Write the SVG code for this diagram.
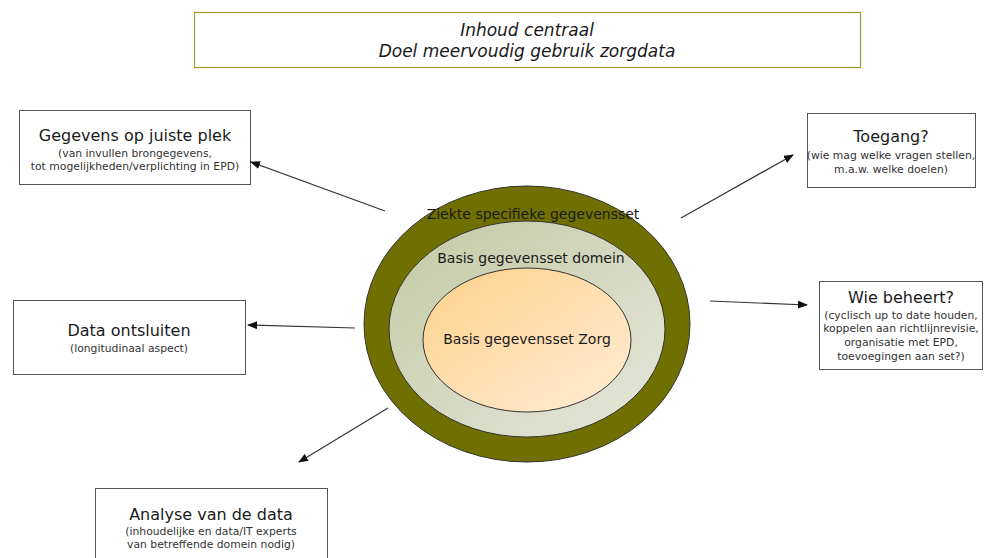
<svg xmlns="http://www.w3.org/2000/svg" width="992" height="558" viewBox="0 0 992 558">
<style>
text{font-family:"DejaVu Sans",Verdana,sans-serif;fill:#1a1a1a;text-anchor:middle}
.t{font-size:16px}
.tt{font-size:17px}
.s{font-size:10.8px;fill:#333}
.e{font-size:14px}
.box{fill:#fff;stroke:#555;stroke-width:1}
.c{stroke:#333;stroke-width:1.2;fill:none;marker-end:url(#ah)}
</style>
<defs>
<marker id="ah" markerWidth="10" markerHeight="8" refX="9" refY="4" orient="auto" markerUnits="userSpaceOnUse">
<path d="M0,0 L10,4 L0,8 Z" fill="#111"/>
</marker>
<linearGradient id="gm" x1="0" y1="0" x2="1" y2="1">
<stop offset="0" stop-color="#c3c9a3"/>
<stop offset="1" stop-color="#e6e7db"/>
</linearGradient>
<linearGradient id="gi" x1="0" y1="0" x2="1" y2="1">
<stop offset="0" stop-color="#ffd18a"/>
<stop offset="1" stop-color="#ffecd6"/>
</linearGradient>
</defs>
<g id="title">
<rect x="194.5" y="12.5" width="666" height="55" fill="#fff" stroke="#9a9a30" stroke-width="1.2"/>
<text x="527" y="36" class="tt" font-style="italic">Inhoud centraal</text>
<text x="527" y="57" class="tt" font-style="italic">Doel meervoudig gebruik zorgdata</text>
</g>
<g id="sets">
<ellipse cx="527" cy="324" rx="163" ry="138" fill="#6f7000" stroke="#333" stroke-width="1"/>
<ellipse cx="527" cy="329" rx="138" ry="108" fill="url(#gm)" stroke="#333" stroke-width="1"/>
<ellipse cx="527" cy="340" rx="104" ry="72" fill="url(#gi)" stroke="#333" stroke-width="1"/>
<text x="533" y="219" class="e">Ziekte specifieke gegevensset</text>
<text x="531" y="263" class="e">Basis gegevensset domein</text>
<text x="527" y="344" class="e">Basis gegevensset Zorg</text>
</g>
<g id="n-plek">
<rect x="19.5" y="110.5" width="231" height="74" class="box"/>
<text x="135" y="141" class="t">Gegevens op juiste plek</text>
<text x="135" y="157" class="s">(van invullen brongegevens,</text>
<text x="135" y="170" class="s">tot mogelijkheden/verplichting in EPD)</text>
</g>
<g id="n-toegang">
<rect x="807.5" y="113.5" width="168" height="74" class="box"/>
<text x="891" y="142" class="t">Toegang?</text>
<text x="891" y="159" class="s">(wie mag welke vragen stellen,</text>
<text x="891" y="173" class="s">m.a.w. welke doelen)</text>
</g>
<g id="n-ontsluiten">
<rect x="13.5" y="300.5" width="232" height="74" class="box"/>
<text x="129" y="336" class="t">Data ontsluiten</text>
<text x="129" y="352" class="s">(longitudinaal aspect)</text>
</g>
<g id="n-beheer">
<rect x="819.5" y="281.5" width="163" height="88" class="box"/>
<text x="901" y="303" class="t">Wie beheert?</text>
<text x="901" y="319" class="s">(cyclisch up to date houden,</text>
<text x="901" y="332" class="s">koppelen aan richtlijnrevisie,</text>
<text x="901" y="346" class="s">organisatie met EPD,</text>
<text x="901" y="360" class="s">toevoegingen aan set?)</text>
</g>
<g id="n-analyse">
<rect x="95.5" y="488.5" width="232" height="80" class="box"/>
<text x="211" y="520" class="t">Analyse van de data</text>
<text x="211" y="535" class="s">(inhoudelijke en data/IT experts</text>
<text x="211" y="548" class="s">van betreffende domein nodig)</text>
</g>
<g id="connectors">
<line x1="385" y1="211" x2="251" y2="162" class="c"/>
<line x1="681" y1="218" x2="793" y2="155" class="c"/>
<line x1="710" y1="301" x2="807" y2="305" class="c"/>
<line x1="355" y1="328" x2="248" y2="325" class="c"/>
<line x1="388" y1="408" x2="299" y2="462" class="c"/>
</g>
</svg>
